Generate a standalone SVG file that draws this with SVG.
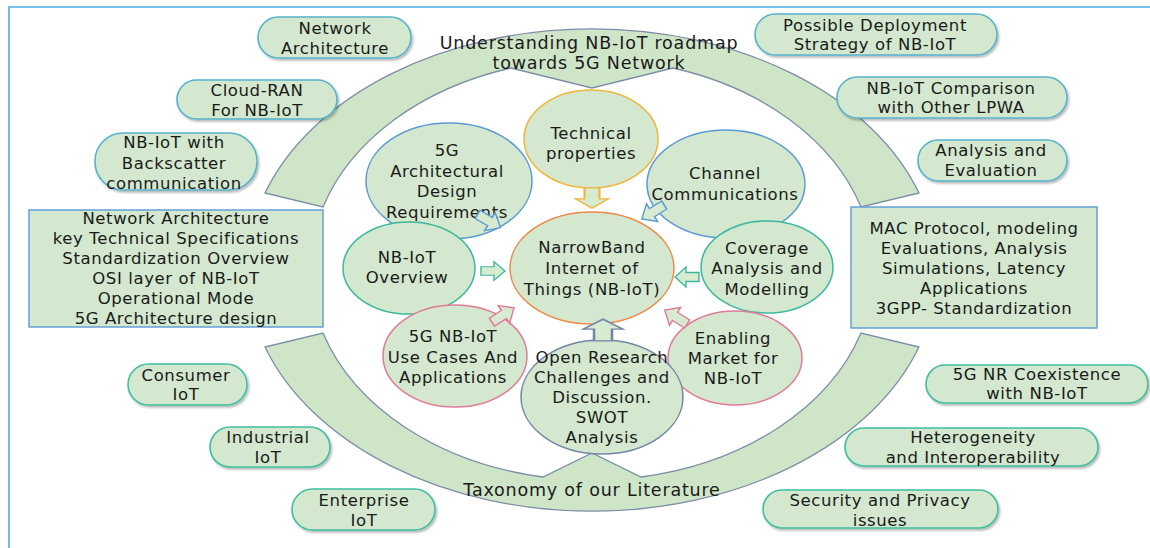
<svg xmlns="http://www.w3.org/2000/svg" width="1150" height="548" viewBox="0 0 1150 548">
<defs>
<filter id="sh" x="-10%" y="-20%" width="125%" height="150%">
<feDropShadow dx="1.5" dy="2" stdDeviation="1.2" flood-color="#000" flood-opacity="0.28"/>
</filter>
<path id="ar" d="M -12,-5 L 1,-5 L 1,-11 L 12,0 L 1,11 L 1,5 L -12,5 Z"/>
</defs>
<style>
text{font-family:"DejaVu Sans","Liberation Sans",sans-serif;font-size:16.5px;fill:#1a1a1a;text-anchor:middle;letter-spacing:0.6px}
.big{font-size:17.5px;letter-spacing:0.8px}
.band{fill:#cfe5c7;stroke:#7d8ea8;stroke-width:1.3}
.pb{fill:#d3e8cf;stroke:#55b2cc;stroke-width:1.6;filter:url(#sh)}
.pt{fill:#d3e8cf;stroke:#3fbf9f;stroke-width:1.6;filter:url(#sh)}
.box{fill:#d3e8cf;stroke:#5b9bd5;stroke-width:1.4}
.c{fill:#d3e8cf;stroke-width:1.5}
.arw{fill:#d6ebcf;stroke-width:1.4}
</style>
<rect width="1150" height="548" fill="#ffffff"/>
<g id="frame" fill="none" stroke="#4aaee0" stroke-width="1.6">
<path d="M 9,548 L 9,7 L 1150,7"/>
</g>
<g id="upper-band">
<path class="band" d="M 265,193 A 345 241 0 0 1 919,193 L 861,207 A 282 211 0 0 0 673,68 L 592,88 L 511,68 A 282 211 0 0 0 323,207 Z"/>
<text class="big" x="589" y="49">Understanding NB-IoT roadmap</text>
<text class="big" x="589" y="69">towards 5G Network</text>
</g>
<g id="lower-band">
<path class="band" d="M 265,347 A 345 241 0 0 0 919,347 L 861,333 A 282 211 0 0 1 641,477 L 592,453 L 543,477 A 282 211 0 0 1 323,333 Z"/>
<text class="big" x="592" y="496">Taxonomy of our Literature</text>
</g>
<g id="n-network-architecture"><rect class="pb" x="258" y="17" width="153" height="41" rx="20.5"/><text x="335" y="34">Network</text><text x="335" y="54">Architecture</text></g>
<g id="n-cloud-ran"><rect class="pb" x="177" y="80" width="160" height="39" rx="19.5"/><text x="257" y="96">Cloud-RAN</text><text x="257" y="116">For NB-IoT</text></g>
<g id="n-backscatter"><rect class="pb" x="95" y="133" width="162" height="57" rx="28"/><text x="174" y="148">NB-IoT with</text><text x="174" y="169">Backscatter</text><text x="174" y="189">communication</text></g>
<g id="n-left-box"><rect class="box" x="29" y="210" width="294" height="117"/>
<text x="176" y="224">Network Architecture</text><text x="176" y="244">key Technical Specifications</text><text x="176" y="264">Standardization Overview</text><text x="176" y="284">OSI layer of NB-IoT</text><text x="176" y="304">Operational Mode</text><text x="176" y="324">5G Architecture design</text></g>
<g id="n-consumer"><rect class="pt" x="128" y="364" width="119" height="41" rx="20.5"/><text x="186" y="381">Consumer</text><text x="186" y="400">IoT</text></g>
<g id="n-industrial"><rect class="pt" x="210" y="427" width="120" height="40" rx="20"/><text x="268" y="443">Industrial</text><text x="268" y="463">IoT</text></g>
<g id="n-enterprise"><rect class="pt" x="292" y="489" width="143" height="41" rx="20.5"/><text x="364" y="506">Enterprise</text><text x="364" y="526">IoT</text></g>
<g id="n-deployment"><rect class="pb" x="755" y="14" width="242" height="41" rx="20.5"/><text x="875" y="31">Possible Deployment</text><text x="875" y="50">Strategy of NB-IoT</text></g>
<g id="n-comparison"><rect class="pb" x="837" y="77" width="230" height="41" rx="20.5"/><text x="951" y="94">NB-IoT Comparison</text><text x="951" y="113">with Other LPWA</text></g>
<g id="n-analysis-eval"><rect class="pb" x="918" y="140" width="149" height="41" rx="20.5"/><text x="991" y="156">Analysis and</text><text x="991" y="176">Evaluation</text></g>
<g id="n-right-box"><rect class="box" x="851" y="207" width="246" height="121"/>
<text x="974" y="234">MAC Protocol, modeling</text><text x="974" y="254">Evaluations, Analysis</text><text x="974" y="274">Simulations, Latency</text><text x="974" y="294">Applications</text><text x="974" y="314">3GPP- Standardization</text></g>
<g id="n-5gnr"><rect class="pt" x="926" y="365" width="222" height="38" rx="19"/><text x="1037" y="380">5G NR Coexistence</text><text x="1037" y="399">with NB-IoT</text></g>
<g id="n-heterogeneity"><rect class="pt" x="845" y="428" width="253" height="38" rx="19"/><text x="973" y="443">Heterogeneity</text><text x="973" y="463">and Interoperability</text></g>
<g id="n-security"><rect class="pt" x="763" y="490" width="235" height="38" rx="19"/><text x="880" y="506">Security and Privacy</text><text x="880" y="526">issues</text></g>
<g id="n-technical"><ellipse class="c" cx="591" cy="139" rx="67" ry="49" stroke="#f0b43c"/><text x="591" y="139">Technical</text><text x="591" y="159">properties</text></g>
<g id="n-5g-arch"><ellipse class="c" cx="449" cy="181" rx="83" ry="58" stroke="#5b9bd5"/><text x="447" y="156">5G</text><text x="447" y="177">Architectural</text><text x="447" y="197">Design</text><text x="447" y="218">Requirements</text></g>
<g id="n-channel"><ellipse class="c" cx="726" cy="184" rx="79" ry="54" stroke="#5b9bd5"/><text x="725" y="179">Channel</text><text x="725" y="200">Communications</text></g>
<g id="n-overview"><ellipse class="c" cx="409" cy="268" rx="66" ry="46" stroke="#3cb89c"/><text x="407" y="263">NB-IoT</text><text x="407" y="283">Overview</text></g>
<g id="n-narrowband"><ellipse class="c" cx="592" cy="268" rx="82" ry="56" stroke="#ed8a4a"/><text x="592" y="253">NarrowBand</text><text x="592" y="274">Internet of</text><text x="592" y="295">Things (NB-IoT)</text></g>
<g id="n-coverage"><ellipse class="c" cx="767" cy="267" rx="66" ry="46" stroke="#3cb89c"/><text x="767" y="254">Coverage</text><text x="767" y="274">Analysis and</text><text x="767" y="295">Modelling</text></g>
<g id="n-usecases"><ellipse class="c" cx="455" cy="356" rx="72" ry="51" stroke="#e07b98"/><text x="453" y="342">5G NB-IoT</text><text x="453" y="363">Use Cases And</text><text x="453" y="383">Applications</text></g>
<g id="n-enabling"><ellipse class="c" cx="735" cy="358" rx="67" ry="47" stroke="#e07b98"/><text x="733" y="344">Enabling</text><text x="733" y="364">Market for</text><text x="733" y="384">NB-IoT</text></g>
<g id="n-open-research"><ellipse class="c" cx="602" cy="397" rx="81" ry="57" stroke="#7486a6"/><text x="602" y="363">Open Research</text><text x="602" y="383">Challenges and</text><text x="602" y="403">Discussion.</text><text x="602" y="423">SWOT</text><text x="602" y="443">Analysis</text></g>
<g id="connectors">
<use href="#ar" class="arw" stroke="#f0b43c" fill="#e6efc4" transform="translate(592,198) rotate(90) scale(0.85,1.5)"/>
<use href="#ar" class="arw" stroke="#5b9bd5" transform="translate(489,221) rotate(30) scale(1.1,0.95)"/>
<use href="#ar" class="arw" stroke="#5b9bd5" transform="translate(653,212) rotate(148) scale(1.1,0.95)"/>
<use href="#ar" class="arw" stroke="#3cb89c" transform="translate(493,271) scale(1,0.85)"/>
<use href="#ar" class="arw" stroke="#3cb89c" transform="translate(687,277) rotate(180) scale(1,0.9)"/>
<use href="#ar" class="arw" stroke="#e07b98" transform="translate(503,315) rotate(-33) scale(1.1,0.95)"/>
<use href="#ar" class="arw" stroke="#e07b98" transform="translate(676,317) rotate(-148) scale(1.1,0.95)"/>
<use href="#ar" class="arw" stroke="#7486a6" transform="translate(603,330) rotate(-90) scale(0.9,1.8)"/>
</g>
</svg>
